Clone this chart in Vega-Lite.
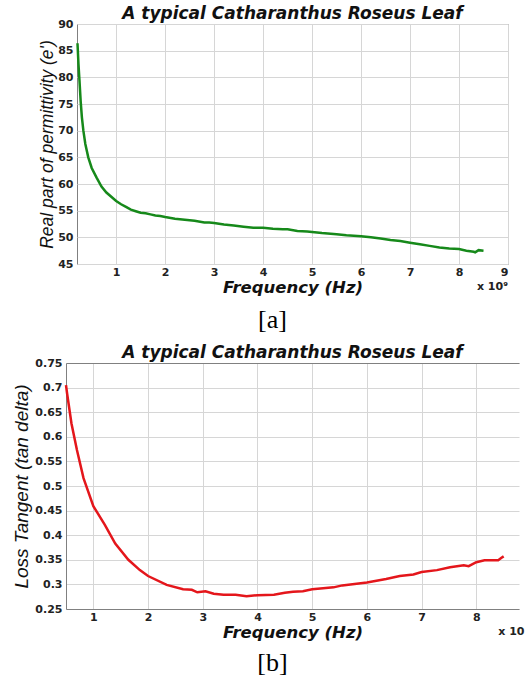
{
  "$schema": "https://vega.github.io/schema/vega-lite/v6.json",
  "padding": {"left": 12, "top": 4, "right": 0, "bottom": 0},
  "background": "white",
  "center": true,
  "bounds": "flush",
  "spacing": 28,
  "datasets": {
    "perm": [
      {"f": 0.21, "v": 86.4}, {"f": 0.23, "v": 82.5}, {"f": 0.25, "v": 79.5}, {"f": 0.275, "v": 75.5},
      {"f": 0.30, "v": 72.5}, {"f": 0.33, "v": 70.0}, {"f": 0.37, "v": 67.5}, {"f": 0.43, "v": 65.0},
      {"f": 0.50, "v": 63.0}, {"f": 0.60, "v": 61.2}, {"f": 0.70, "v": 59.5}, {"f": 0.80, "v": 58.4},
      {"f": 0.90, "v": 57.6}, {"f": 1.00, "v": 56.8}, {"f": 1.10, "v": 56.2}, {"f": 1.20, "v": 55.7},
      {"f": 1.30, "v": 55.2}, {"f": 1.40, "v": 54.9}, {"f": 1.50, "v": 54.6}, {"f": 1.60, "v": 54.5},
      {"f": 1.70, "v": 54.3}, {"f": 1.80, "v": 54.1}, {"f": 1.90, "v": 54.0}, {"f": 2.00, "v": 53.8},
      {"f": 2.20, "v": 53.5}, {"f": 2.40, "v": 53.3}, {"f": 2.60, "v": 53.1}, {"f": 2.80, "v": 52.8},
      {"f": 2.90, "v": 52.8}, {"f": 3.00, "v": 52.7}, {"f": 3.20, "v": 52.4}, {"f": 3.40, "v": 52.2},
      {"f": 3.60, "v": 52.0}, {"f": 3.80, "v": 51.8}, {"f": 4.00, "v": 51.8}, {"f": 4.20, "v": 51.6},
      {"f": 4.40, "v": 51.5}, {"f": 4.50, "v": 51.5}, {"f": 4.70, "v": 51.2}, {"f": 4.90, "v": 51.1},
      {"f": 5.00, "v": 51.0}, {"f": 5.20, "v": 50.8}, {"f": 5.50, "v": 50.6}, {"f": 5.70, "v": 50.4},
      {"f": 6.00, "v": 50.2}, {"f": 6.20, "v": 50.0}, {"f": 6.40, "v": 49.8}, {"f": 6.60, "v": 49.5},
      {"f": 6.80, "v": 49.3}, {"f": 7.00, "v": 49.0}, {"f": 7.20, "v": 48.7}, {"f": 7.40, "v": 48.4},
      {"f": 7.60, "v": 48.1}, {"f": 7.80, "v": 47.9}, {"f": 8.00, "v": 47.8}, {"f": 8.15, "v": 47.5},
      {"f": 8.30, "v": 47.3}, {"f": 8.33, "v": 47.2}, {"f": 8.40, "v": 47.6}, {"f": 8.50, "v": 47.5}
    ],
    "loss": [
      {"f": 0.50, "v": 0.705}, {"f": 0.52, "v": 0.688}, {"f": 0.60, "v": 0.627}, {"f": 0.70, "v": 0.573},
      {"f": 0.82, "v": 0.516}, {"f": 1.00, "v": 0.459}, {"f": 1.21, "v": 0.421}, {"f": 1.40, "v": 0.383},
      {"f": 1.64, "v": 0.350}, {"f": 1.85, "v": 0.329}, {"f": 2.00, "v": 0.317}, {"f": 2.34, "v": 0.299},
      {"f": 2.64, "v": 0.290}, {"f": 2.80, "v": 0.289}, {"f": 2.90, "v": 0.284}, {"f": 3.05, "v": 0.286},
      {"f": 3.20, "v": 0.281}, {"f": 3.38, "v": 0.279}, {"f": 3.60, "v": 0.279}, {"f": 3.80, "v": 0.276},
      {"f": 4.00, "v": 0.278}, {"f": 4.30, "v": 0.279}, {"f": 4.50, "v": 0.283}, {"f": 4.65, "v": 0.285},
      {"f": 4.83, "v": 0.286}, {"f": 5.00, "v": 0.290}, {"f": 5.20, "v": 0.292}, {"f": 5.39, "v": 0.294},
      {"f": 5.55, "v": 0.298}, {"f": 5.70, "v": 0.300}, {"f": 6.00, "v": 0.304}, {"f": 6.35, "v": 0.311},
      {"f": 6.60, "v": 0.317}, {"f": 6.85, "v": 0.320}, {"f": 7.00, "v": 0.325}, {"f": 7.28, "v": 0.329},
      {"f": 7.52, "v": 0.335}, {"f": 7.77, "v": 0.339}, {"f": 7.86, "v": 0.337}, {"f": 8.00, "v": 0.345},
      {"f": 8.15, "v": 0.349}, {"f": 8.40, "v": 0.349}, {"f": 8.46, "v": 0.354}, {"f": 8.50, "v": 0.357}
    ]
  },
  "vconcat": [
    {
      "width": 431,
      "height": 240,
      "title": {"text": "A typical Catharanthus Roseus Leaf"},
      "layer": [
        {
          "data": {"name": "perm"},
          "mark": {"type": "line", "color": "#16891a", "strokeWidth": 2.5},
          "encoding": {
            "x": {"field": "f", "type": "quantitative", "scale": {"domain": [0.2, 9], "nice": false, "zero": false},
                  "axis": {"title": "Frequency (Hz)", "values": [1, 2, 3, 4, 5, 6, 7, 8, 9], "tickCount": 30, "format": "d", "titleFont": "DejaVu Sans", "titleFontWeight": "bold", "titleFontSize": 16.5, "labelPadding": 2, "titlePadding": 2}},
            "y": {"field": "v", "type": "quantitative", "scale": {"domain": [45, 90], "nice": false, "zero": false},
                  "axis": {"title": "Real part of permittivity (e')", "values": [45, 50, 55, 60, 65, 70, 75, 80, 85, 90], "tickCount": 30, "format": "d", "titleFontWeight": "normal", "titleFontSize": 17.5, "titlePadding": 1}}
          }
        },
        {
          "data": {"values": [{"label": "x 10⁹"}]},
          "mark": {"type": "text", "align": "right", "baseline": "middle", "dy": 23, "font": "DejaVu Sans", "fontWeight": "bold", "fontSize": 11, "color": "#222"},
          "encoding": {
            "x": {"datum": 9, "type": "quantitative"},
            "y": {"datum": 45, "type": "quantitative"},
            "text": {"field": "label"}
          }
        }
      ]
    },
    {
      "width": 453,
      "height": 43,
      "view": {"stroke": null},
      "data": {"values": [{"label": "[a]"}]},
      "mark": {"type": "text", "font": "Liberation Serif", "fontSize": 26, "dx": -20, "dy": 6, "color": "#000"},
      "encoding": {"text": {"field": "label"}}
    },
    {
      "width": 453,
      "height": 246,
      "view": {"stroke": null},
      "title": {"text": "A typical Catharanthus Roseus Leaf"},
      "resolve": {"axis": {"x": "independent"}},
      "layer": [
        {
          "data": {"name": "loss"},
          "mark": {"type": "line", "color": "#e4161b", "strokeWidth": 2.5},
          "encoding": {
            "x": {"field": "f", "type": "quantitative", "scale": {"domain": [0.5, 8.78], "nice": false, "zero": false},
                  "axis": {"title": "Frequency (Hz)", "values": [1, 2, 3, 4, 5, 6, 7, 8], "tickCount": 30, "format": "d", "titleFont": "DejaVu Sans", "titleFontWeight": "bold", "titleFontSize": 16.5, "domain": true, "labelPadding": 2, "titlePadding": 2}},
            "y": {"field": "v", "type": "quantitative", "scale": {"domain": [0.25, 0.75], "nice": false, "zero": false},
                  "axis": {"title": "Loss Tangent (tan delta)", "values": [0.25, 0.3, 0.35, 0.4, 0.45, 0.5, 0.55, 0.6, 0.65, 0.7, 0.75], "tickCount": 30, "format": ".2~f", "titleFontWeight": "normal", "titleFontSize": 19, "titlePadding": 3, "domain": true}}
          }
        },
        {
          "data": {"values": [{"label": "x 10⁹"}]},
          "mark": {"type": "text", "align": "left", "baseline": "middle", "dy": 23, "font": "DejaVu Sans", "fontWeight": "bold", "fontSize": 11, "color": "#222", "limit": 28, "ellipsis": "\u200b"},
          "encoding": {
            "x": {"datum": 8.4, "type": "quantitative",
                  "axis": {"orient": "top", "title": null, "labels": false, "ticks": false, "grid": false, "domain": true}},
            "y": {"datum": 0.25, "type": "quantitative"},
            "text": {"field": "label"}
          }
        }
      ]
    },
    {
      "width": 453,
      "height": 40,
      "view": {"stroke": null},
      "data": {"values": [{"label": "[b]"}]},
      "mark": {"type": "text", "font": "Liberation Serif", "fontSize": 26, "dx": -20, "dy": 6, "color": "#000"},
      "encoding": {"text": {"field": "label"}}
    }
  ],
  "config": {
    "view": {"stroke": "#808080", "strokeWidth": 1},
    "axis": {
      "labelFont": "DejaVu Sans", "labelFontWeight": "bold", "labelFontSize": 11, "labelColor": "#222",
      "titleFont": "Liberation Sans", "titleFontStyle": "italic", "titleFontSize": 16, "titleColor": "#111",
      "gridColor": "#d6d6d6", "gridWidth": 1, "domain": false, "domainColor": "#808080", "domainWidth": 1, "ticks": false, "labelOverlap": false,
      "labelPadding": 4, "titlePadding": 0
    },
    "title": {"font": "DejaVu Sans", "fontSize": 17, "fontStyle": "italic", "fontWeight": "bold", "color": "#111", "offset": -5, "anchor": "middle"}
  }
}
